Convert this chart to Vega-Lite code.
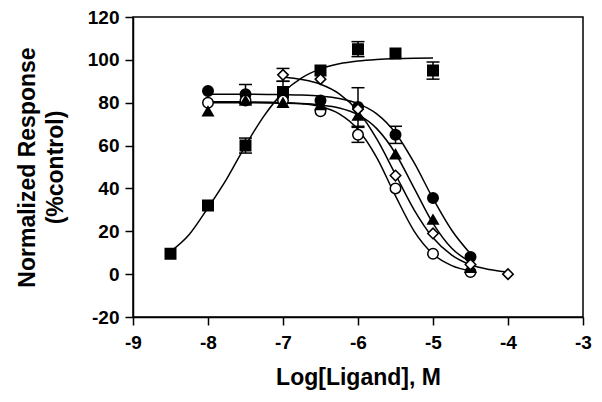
{
  "$schema": "https://vega.github.io/schema/vega-lite/v6.json",
  "width": 450,
  "height": 300,
  "autosize": "none",
  "padding": {"left": 133, "top": 17, "right": 19, "bottom": 85},
  "background": "white",
  "config": {
    "view": {"stroke": "black", "strokeWidth": 1.5},
    "font": "Liberation Sans",
    "axis": {
      "grid": false,
      "domainColor": "black",
      "domainWidth": 1.5,
      "tickColor": "black",
      "tickWidth": 1.5,
      "tickSize": 8,
      "labelFont": "Liberation Sans",
      "labelFontSize": 19,
      "labelFontWeight": "bold",
      "labelColor": "black",
      "labelFlush": false,
      "labelOverlap": false,
      "labelExpr": "'' + datum.value",
      "titleFont": "Liberation Sans",
      "titleFontSize": 23,
      "titleFontWeight": "bold",
      "titleColor": "black"
    },
    "axisX": {"labelPadding": 8, "titlePadding": 14, "labelAngle": 0},
    "axisY": {"labelPadding": 6, "titlePadding": 20, "titleLineHeight": 28}
  },
  "datasets": {
    "pts": [
      {"series": "Agonist", "x": -8.5, "y": 9.5},
      {"series": "Agonist", "x": -8, "y": 32},
      {"series": "Agonist", "x": -7.5, "y": 60},
      {"series": "Agonist", "x": -7, "y": 85},
      {"series": "Agonist", "x": -6.5, "y": 95},
      {"series": "Agonist", "x": -6, "y": 105},
      {"series": "Agonist", "x": -5.5, "y": 103},
      {"series": "Agonist", "x": -5, "y": 95},
      {"series": "Filled circle", "x": -8, "y": 85.5},
      {"series": "Filled circle", "x": -7.5, "y": 84},
      {"series": "Filled circle", "x": -7, "y": 83},
      {"series": "Filled circle", "x": -6.5, "y": 81},
      {"series": "Filled circle", "x": -6, "y": 78},
      {"series": "Filled circle", "x": -5.5, "y": 65},
      {"series": "Filled circle", "x": -5, "y": 35.5},
      {"series": "Filled circle", "x": -4.5, "y": 8},
      {"series": "Open circle", "x": -8, "y": 80},
      {"series": "Open circle", "x": -7.5, "y": 81},
      {"series": "Open circle", "x": -7, "y": 81},
      {"series": "Open circle", "x": -6.5, "y": 76},
      {"series": "Open circle", "x": -6, "y": 65},
      {"series": "Open circle", "x": -5.5, "y": 40},
      {"series": "Open circle", "x": -5, "y": 9.5},
      {"series": "Open circle", "x": -4.5, "y": 1},
      {"series": "Triangle", "x": -8, "y": 76},
      {"series": "Triangle", "x": -7.5, "y": 81},
      {"series": "Triangle", "x": -7, "y": 80},
      {"series": "Triangle", "x": -6.5, "y": 79},
      {"series": "Triangle", "x": -6, "y": 74},
      {"series": "Triangle", "x": -5.5, "y": 56},
      {"series": "Triangle", "x": -5, "y": 25.5},
      {"series": "Triangle", "x": -4.5, "y": 3},
      {"series": "Diamond", "x": -7, "y": 93},
      {"series": "Diamond", "x": -6.5, "y": 91},
      {"series": "Diamond", "x": -6, "y": 77},
      {"series": "Diamond", "x": -5.5, "y": 46},
      {"series": "Diamond", "x": -5, "y": 19},
      {"series": "Diamond", "x": -4.5, "y": 4.5},
      {"series": "Diamond", "x": -4, "y": 0}
    ],
    "err": [
      {"series": "Agonist", "x": -7.5, "lo": 56.5, "hi": 63.5},
      {"series": "Agonist", "x": -7, "lo": 80, "hi": 90},
      {"series": "Agonist", "x": -6, "lo": 101.5, "hi": 108.5},
      {"series": "Agonist", "x": -5, "lo": 91, "hi": 99},
      {"series": "Filled circle", "x": -7.5, "lo": 79.5, "hi": 88.5},
      {"series": "Filled circle", "x": -6, "lo": 69, "hi": 87},
      {"series": "Filled circle", "x": -5.5, "lo": 61, "hi": 69},
      {"series": "Open circle", "x": -6, "lo": 61.5, "hi": 68.5},
      {"series": "Diamond", "x": -7, "lo": 90, "hi": 96}
    ],
    "curve": [
      {"series": "Agonist", "x": -8.5, "y": 10.5},
      {"series": "Agonist", "x": -8.25, "y": 18.5},
      {"series": "Agonist", "x": -8, "y": 31},
      {"series": "Agonist", "x": -7.75, "y": 44.5},
      {"series": "Agonist", "x": -7.5, "y": 60},
      {"series": "Agonist", "x": -7.25, "y": 74},
      {"series": "Agonist", "x": -7, "y": 84.7},
      {"series": "Agonist", "x": -6.75, "y": 91.6},
      {"series": "Agonist", "x": -6.5, "y": 95.8},
      {"series": "Agonist", "x": -6.25, "y": 98.2},
      {"series": "Agonist", "x": -6, "y": 99.5},
      {"series": "Agonist", "x": -5.75, "y": 100.2},
      {"series": "Agonist", "x": -5.5, "y": 100.6},
      {"series": "Agonist", "x": -5.25, "y": 100.8},
      {"series": "Agonist", "x": -5, "y": 100.9},
      {"series": "Filled circle", "x": -8, "y": 84},
      {"series": "Filled circle", "x": -7.5, "y": 84},
      {"series": "Filled circle", "x": -7, "y": 83.8},
      {"series": "Filled circle", "x": -6.75, "y": 83.6},
      {"series": "Filled circle", "x": -6.5, "y": 83.1},
      {"series": "Filled circle", "x": -6.25, "y": 82},
      {"series": "Filled circle", "x": -6, "y": 79.6},
      {"series": "Filled circle", "x": -5.75, "y": 74.8},
      {"series": "Filled circle", "x": -5.5, "y": 65.9},
      {"series": "Filled circle", "x": -5.25, "y": 51.9},
      {"series": "Filled circle", "x": -5, "y": 35.3},
      {"series": "Filled circle", "x": -4.75, "y": 20.5},
      {"series": "Filled circle", "x": -4.5, "y": 9.5},
      {"series": "Open circle", "x": -8, "y": 80.5},
      {"series": "Open circle", "x": -7.5, "y": 80.4},
      {"series": "Open circle", "x": -7, "y": 80.1},
      {"series": "Open circle", "x": -6.75, "y": 79.5},
      {"series": "Open circle", "x": -6.5, "y": 78.2},
      {"series": "Open circle", "x": -6.25, "y": 74.8},
      {"series": "Open circle", "x": -6, "y": 67.5},
      {"series": "Open circle", "x": -5.75, "y": 54.4},
      {"series": "Open circle", "x": -5.5, "y": 36.5},
      {"series": "Open circle", "x": -5.25, "y": 20},
      {"series": "Open circle", "x": -5, "y": 9.4},
      {"series": "Open circle", "x": -4.75, "y": 4},
      {"series": "Open circle", "x": -4.5, "y": 1.6},
      {"series": "Triangle", "x": -8, "y": 80},
      {"series": "Triangle", "x": -7.5, "y": 80},
      {"series": "Triangle", "x": -7, "y": 79.8},
      {"series": "Triangle", "x": -6.75, "y": 79.6},
      {"series": "Triangle", "x": -6.5, "y": 78.9},
      {"series": "Triangle", "x": -6.25, "y": 77.5},
      {"series": "Triangle", "x": -6, "y": 74.4},
      {"series": "Triangle", "x": -5.75, "y": 67.9},
      {"series": "Triangle", "x": -5.5, "y": 56.3},
      {"series": "Triangle", "x": -5.25, "y": 40},
      {"series": "Triangle", "x": -5, "y": 23.7},
      {"series": "Triangle", "x": -4.75, "y": 12.1},
      {"series": "Triangle", "x": -4.5, "y": 5.6},
      {"series": "Diamond", "x": -7, "y": 92},
      {"series": "Diamond", "x": -6.75, "y": 90.8},
      {"series": "Diamond", "x": -6.5, "y": 88.6},
      {"series": "Diamond", "x": -6.25, "y": 84.1},
      {"series": "Diamond", "x": -6, "y": 76},
      {"series": "Diamond", "x": -5.75, "y": 63.1},
      {"series": "Diamond", "x": -5.5, "y": 46.5},
      {"series": "Diamond", "x": -5.25, "y": 29.9},
      {"series": "Diamond", "x": -5, "y": 17},
      {"series": "Diamond", "x": -4.75, "y": 8.9},
      {"series": "Diamond", "x": -4.5, "y": 4.4},
      {"series": "Diamond", "x": -4.25, "y": 2.2},
      {"series": "Diamond", "x": -4, "y": 1}
    ]
  },
  "layer": [
    {
      "data": {"name": "err"},
      "mark": {"type": "rule", "stroke": "black", "strokeWidth": 1.5},
      "encoding": {
        "x": {"field": "x", "type": "quantitative", "scale": {"domain": [-9, -3], "nice": false, "zero": false}, "axis": {"values": [-9, -8, -7, -6, -5, -4, -3]}, "title": "Log[Ligand], M"},
        "y": {"field": "lo", "type": "quantitative", "scale": {"domain": [-20, 120], "nice": false, "zero": false}, "axis": {"values": [-20, 0, 20, 40, 60, 80, 100, 120]}, "title": ["Normalized Response", "(%control)"]},
        "y2": {"field": "hi"}
      }
    },
    {
      "data": {"name": "err"},
      "mark": {"type": "tick", "orient": "horizontal", "size": 13, "thickness": 1.5, "color": "black", "opacity": 1},
      "encoding": {
        "x": {"field": "x", "type": "quantitative", "title": "Log[Ligand], M"},
        "y": {"field": "lo", "type": "quantitative", "title": ["Normalized Response", "(%control)"]}
      }
    },
    {
      "data": {"name": "err"},
      "mark": {"type": "tick", "orient": "horizontal", "size": 13, "thickness": 1.5, "color": "black", "opacity": 1},
      "encoding": {
        "x": {"field": "x", "type": "quantitative", "title": "Log[Ligand], M"},
        "y": {"field": "hi", "type": "quantitative", "title": ["Normalized Response", "(%control)"]}
      }
    },
    {
      "data": {"name": "curve"},
      "mark": {"type": "line", "stroke": "black", "strokeWidth": 1.5, "interpolate": "monotone"},
      "encoding": {
        "x": {"field": "x", "type": "quantitative", "title": "Log[Ligand], M"},
        "y": {"field": "y", "type": "quantitative", "title": ["Normalized Response", "(%control)"]},
        "detail": {"field": "series", "type": "nominal"}
      }
    },
    {
      "data": {"name": "pts"},
      "mark": {"type": "point", "filled": true, "stroke": "black", "strokeWidth": 1.5, "size": 110, "opacity": 1},
      "encoding": {
        "x": {"field": "x", "type": "quantitative", "title": "Log[Ligand], M"},
        "y": {"field": "y", "type": "quantitative", "title": ["Normalized Response", "(%control)"]},
        "shape": {"field": "series", "type": "nominal", "scale": {"domain": ["Agonist", "Filled circle", "Open circle", "Triangle", "Diamond"], "range": ["square", "circle", "circle", "triangle-up", "diamond"]}, "legend": null},
        "fill": {"field": "series", "type": "nominal", "scale": {"domain": ["Agonist", "Filled circle", "Open circle", "Triangle", "Diamond"], "range": ["black", "black", "white", "black", "white"]}, "legend": null}
      }
    }
  ]
}
